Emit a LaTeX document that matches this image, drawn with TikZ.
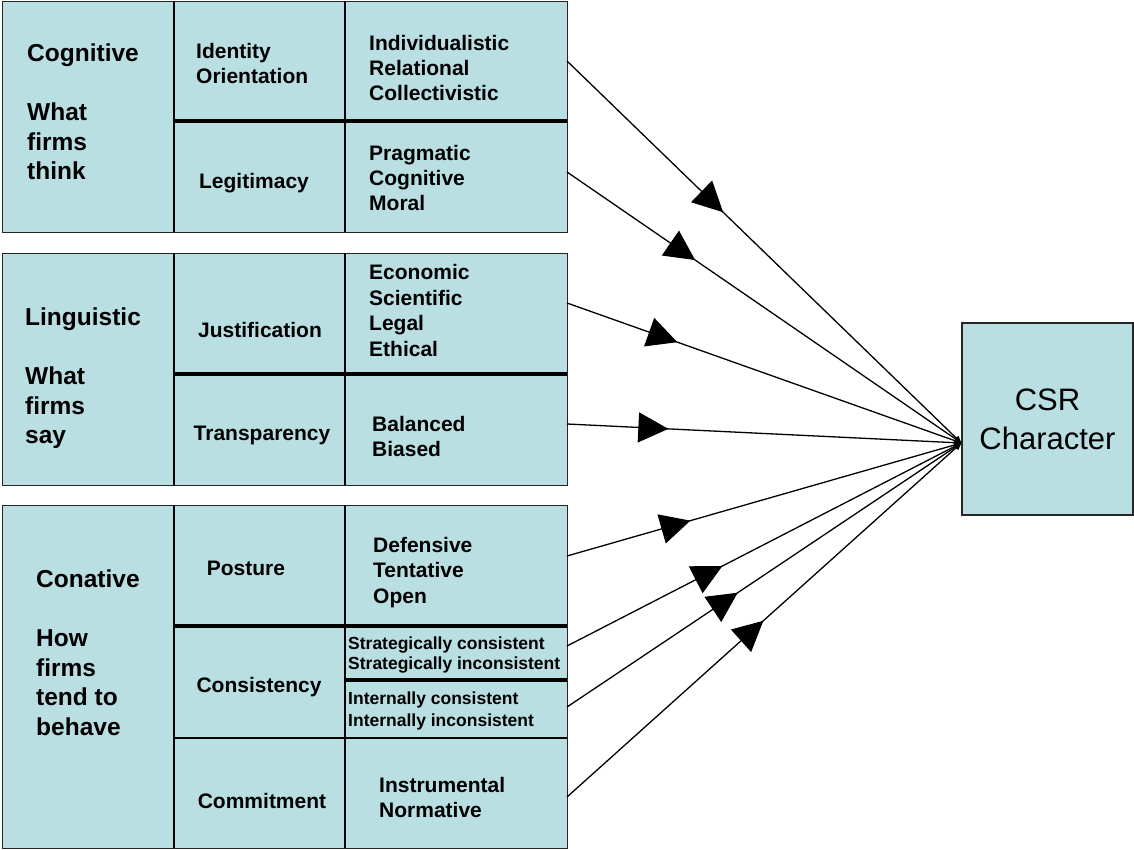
\documentclass[tikz,border=0pt]{standalone}
\usepackage{fontspec}
\setmainfont{Liberation Sans}
\usetikzlibrary{arrows.meta,decorations.markings}
\definecolor{cellblue}{RGB}{186,223,226}
\tikzset{
  block/.style={draw=black!85, line width=1.3pt, fill=cellblue, anchor=north west, inner sep=0pt},
  csrbox/.style={draw=black!85, line width=1.3pt, fill=cellblue, inner sep=0pt, align=center,
    font=\fontsize{31}{39}\selectfont},
  vline/.style={line width=1.3pt, black},
  thickline/.style={line width=3.8pt, black},
  medline/.style={line width=2.6pt, black},
  head/.style={font=\fontsize{24.5}{29.5}\selectfont\bfseries, align=left, anchor=west, inner sep=0pt},
  lab/.style={font=\fontsize{21}{25}\selectfont\bfseries, align=center, inner sep=0pt},
  items/.style={font=\fontsize{21}{25}\selectfont\bfseries, align=left, anchor=west, inner sep=0pt},
  smallitems/.style={font=\fontsize{17.5}{21}\selectfont\bfseries, align=left, anchor=west, inner sep=0pt},
  flow/.style={line width=1.3pt, -{Triangle[length=7pt,width=6pt]}},
  midhead/.style={postaction={decorate}, decoration={markings,
    mark=at position #1 with {\arrow{Triangle[length=30pt,width=30pt]}}}}
}
\begin{document}
\begin{tikzpicture}[x=1pt,y=-1pt]
\useasboundingbox (0,0) rectangle (1134,850);

% blocks
\node[block, minimum width=565pt, minimum height=231pt] (b1) at (2,1) {};
\node[block, minimum width=565pt, minimum height=232pt] (b2) at (2,253) {};
\node[block, minimum width=565pt, minimum height=343pt] (b3) at (2,505) {};

% block 1 grid
\draw[vline] (174,1) -- (174,232);
\draw[vline] (345,1) -- (345,232);
\draw[thickline] (174,121) -- (567,121);
% block 2 grid
\draw[vline] (174,253) -- (174,485);
\draw[vline] (345,253) -- (345,485);
\draw[thickline] (174,374) -- (567,374);
% block 3 grid
\draw[vline] (174,505) -- (174,848);
\draw[vline] (345,505) -- (345,848);
\draw[thickline] (174,626) -- (567,626);
\draw[thickline] (345,680) -- (567,680);
\draw[medline] (174,738) -- (567,738);

% column 1
\node[head] (h1) at (27,112) {Cognitive\\[29.5pt]What\\firms\\think};
\node[head] (h2) at (25,378.5) {Linguistic\\[29.5pt]What\\firms\\say};
\node[head] (h3) at (36,652.5) {Conative\\[29.5pt]How\\firms\\tend to\\behave};

% column 2
\node[lab, anchor=west, align=left] (l1) at (196,63.5) {Identity\\Orientation};
\node[lab] (l2) at (254,183) {Legitimacy};
\node[lab] (l3) at (260,330) {Justification};
\node[lab] (l4) at (262,435) {Transparency};
\node[lab] (l5) at (246,568) {Posture};
\node[lab] (l6) at (259,687) {Consistency};
\node[lab] (l7) at (262,801) {Commitment};

% column 3
\node[items] (i1) at (369,68) {Individualistic\\Relational\\Collectivistic};
\node[items] (i2) at (369,178) {Pragmatic\\Cognitive\\Moral};
\node[items, font=\fontsize{21}{25.6}\selectfont\bfseries] (i3) at (369,310.5) {Economic\\Scientific\\Legal\\Ethical};
\node[items] (i4) at (372,436.5) {Balanced\\Biased};
\node[items, font=\fontsize{21}{25.5}\selectfont\bfseries] (i5) at (373,572.5) {Defensive\\Tentative\\Open};
\node[smallitems, font=\fontsize{17.5}{20.5}\selectfont\bfseries] (i6) at (348,655) {Strategically consistent\\Strategically inconsistent};
\node[smallitems, font=\fontsize{17.5}{22}\selectfont\bfseries] (i7) at (348,711) {Internally consistent\\Internally inconsistent};
\node[items] (i8) at (379,797.5) {Instrumental\\Normative};

% CSR box
\node[csrbox, minimum width=171pt, minimum height=192pt] (csr) at (1047.5,419) {CSR\\Character};
\coordinate (hub) at ([yshift=-24pt]csr.west);

% start points on the right edge of the blocks
\coordinate (s1) at (567,61);
\coordinate (s2) at (567,172);
\coordinate (s3) at (567,303);
\coordinate (s4) at (567,424);
\coordinate (s5) at (567,556);
\coordinate (s6) at (567,646);
\coordinate (s7) at (567,707);
\coordinate (s8) at (567,797);

% connectors
\draw[flow, midhead=0.396] (s1) -- (hub);
\draw[flow, midhead=0.325] (s2) -- (hub);
\draw[flow, midhead=0.28] (s3) -- (hub);
\draw[flow, midhead=0.257] (s4) -- (hub);
\draw[flow, midhead=0.313] (s5) -- (hub);
\draw[flow, midhead=0.394] (s6) -- (hub);
\draw[flow, midhead=0.433] (s7) -- (hub);
\draw[flow, midhead=0.498] (s8) -- (hub);
\end{tikzpicture}
\end{document}
